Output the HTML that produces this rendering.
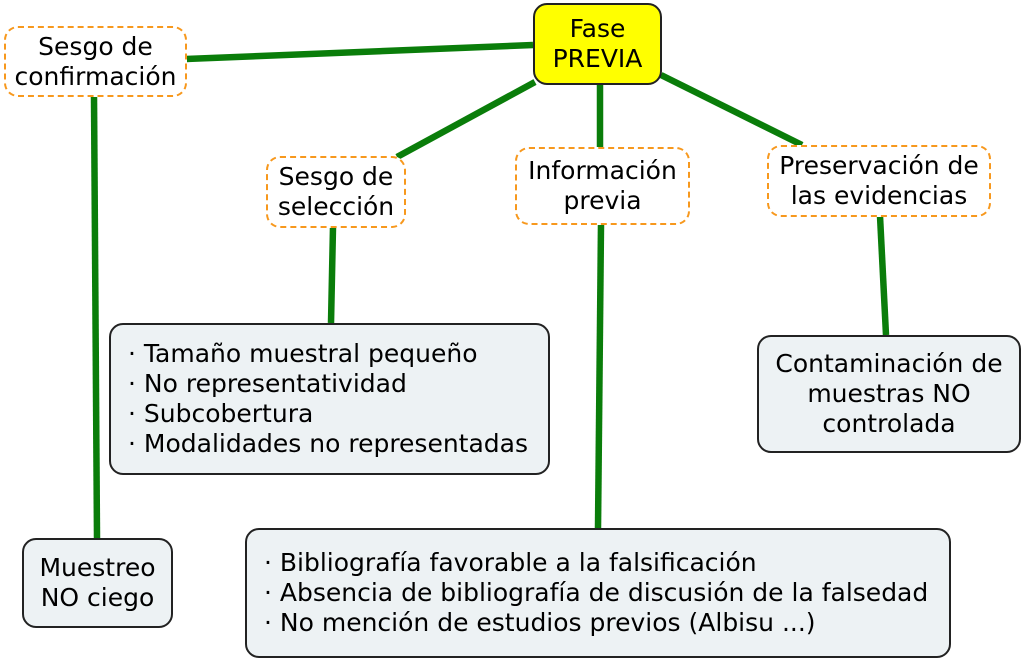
<!DOCTYPE html>
<html><head><meta charset="utf-8"><style>
body{margin:0;width:1024px;height:661px;background:#fff;position:relative;overflow:hidden;font-family:"DejaVu Sans","Liberation Sans",sans-serif;font-size:25px;color:#000}
.b{position:absolute;box-sizing:border-box;display:flex;align-items:center;justify-content:center;text-align:center;line-height:30px;white-space:nowrap}
.d{border:2.5px dashed #f7981d;border-radius:14px;background:#fff}
.g{border:2px solid #222;border-radius:14px;background:#edf2f4}
.l{justify-content:flex-start;text-align:left;padding-left:17px}
svg{position:absolute;left:0;top:0}
</style></head><body>
<svg width="1024" height="661"><g stroke="#0a7d0a" stroke-width="6.5" fill="none">
<line x1="186" y1="59" x2="533" y2="45"/>
<line x1="94" y1="96" x2="97" y2="538"/>
<line x1="535" y1="82" x2="397" y2="157"/>
<line x1="600" y1="85" x2="600" y2="147"/>
<line x1="661" y1="75" x2="802" y2="145"/>
<line x1="333" y1="227" x2="331" y2="323"/>
<line x1="601" y1="224" x2="598" y2="528"/>
<line x1="880" y1="216" x2="886" y2="335"/>
</g></svg>
<div class="b" style="left:533px;top:3px;width:129px;height:82px;background:#ffff00;border:2px solid #222;border-radius:14px">Fase<br>PREVIA</div>
<div class="b d" style="left:4px;top:26px;width:183px;height:71px">Sesgo de<br>confirmación</div>
<div class="b d" style="left:266px;top:156px;width:140px;height:72px">Sesgo de<br>selección</div>
<div class="b d" style="left:515px;top:147px;width:175px;height:78px">Información<br>previa</div>
<div class="b d" style="left:767px;top:145px;width:224px;height:72px">Preservación de<br>las evidencias</div>
<div class="b g" style="left:22px;top:538px;width:151px;height:90px">Muestreo<br>NO ciego</div>
<div class="b g l" style="left:109px;top:323px;width:441px;height:152px">· Tamaño muestral pequeño<br>· No representatividad<br>· Subcobertura<br>· Modalidades no representadas</div>
<div class="b g" style="left:757px;top:335px;width:264px;height:118px">Contaminación de<br>muestras NO<br>controlada</div>
<div class="b g l" style="left:245px;top:528px;width:706px;height:130px">· Bibliografía favorable a la falsificación<br>· Absencia de bibliografía de discusión de la falsedad<br>· No mención de estudios previos (Albisu ...)</div>
</body></html>
